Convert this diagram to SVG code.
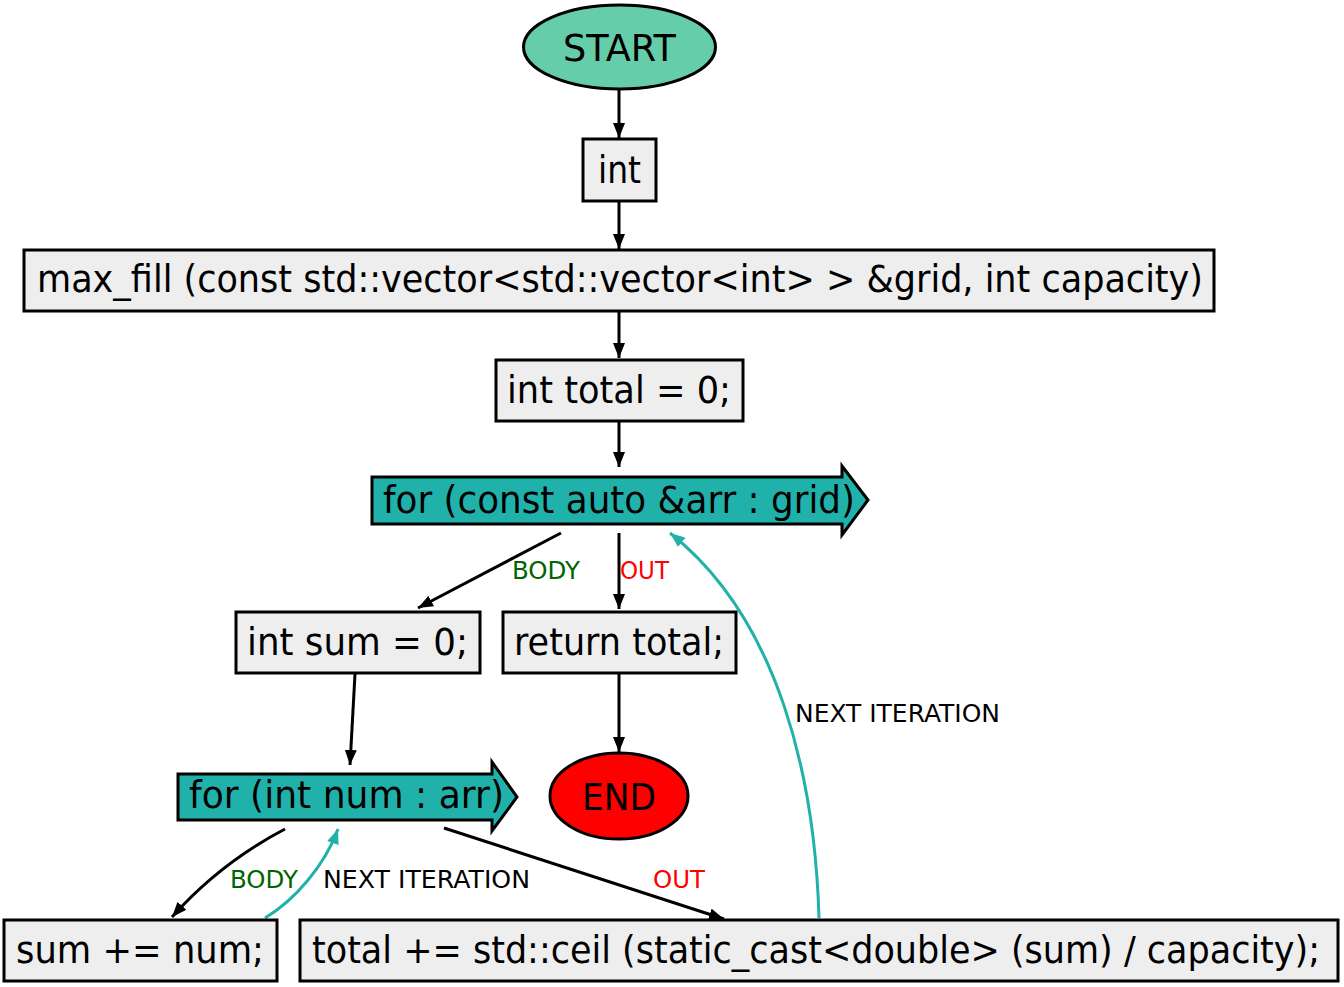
<svg xmlns="http://www.w3.org/2000/svg" width="1344" height="987" viewBox="0 0 1344 987">
<style>
.box{fill:#eeeeee;stroke:#000;stroke-width:3}
.loop{fill:#20b2aa;stroke:#000;stroke-width:3}
.t{font-family:"DejaVu Sans","Liberation Sans",sans-serif;font-size:37px;fill:#000;text-anchor:start}
.l{font-family:"DejaVu Sans","Liberation Sans",sans-serif;font-size:24px}
.e{fill:none;stroke:#000;stroke-width:3}
.c{fill:none;stroke:#20b2aa;stroke-width:3}
</style>
<defs>
<marker id="ah" markerUnits="userSpaceOnUse" markerWidth="16" markerHeight="12" refX="15" refY="6" orient="auto"><path d="M0,0 L15,6 L0,12 z" fill="#000"/></marker>
<marker id="ahc" markerUnits="userSpaceOnUse" markerWidth="16" markerHeight="12" refX="15" refY="6" orient="auto"><path d="M0,0 L15,6 L0,12 z" fill="#20b2aa"/></marker>
</defs>
<rect width="1344" height="987" fill="#fff"/>
<g id="connectors">
<path class="e" d="M619,90 L619,138" marker-end="url(#ah)"/>
<path class="e" d="M619,202 L619,249" marker-end="url(#ah)"/>
<path class="e" d="M619,311 L619,358" marker-end="url(#ah)"/>
<path class="e" d="M619,421 L619,467" marker-end="url(#ah)"/>
<path class="e" d="M561,533 L418,608" marker-end="url(#ah)"/>
<path class="e" d="M619,533 L619,609" marker-end="url(#ah)"/>
<path class="e" d="M619,673 L619,752" marker-end="url(#ah)"/>
<path class="e" d="M355,674 L350,765" marker-end="url(#ah)"/>
<path class="e" d="M444,828 L724,919" marker-end="url(#ah)"/>
<path class="e" d="M285,829 C245,850 205,880 172,917" marker-end="url(#ah)"/>
<path class="c" d="M265,918 C295,900 325,865 338,829" marker-end="url(#ahc)"/>
<path class="c" d="M819,918 C815,780 780,620 670,533" marker-end="url(#ahc)"/>
<text class="l" x="512" y="579" fill="#006400" textLength="68" lengthAdjust="spacingAndGlyphs">BODY</text>
<text class="l" x="620" y="579" fill="#ff0000" textLength="49" lengthAdjust="spacingAndGlyphs">OUT</text>
<text class="l" x="795" y="722" fill="#000" textLength="205" lengthAdjust="spacingAndGlyphs">NEXT ITERATION</text>
<text class="l" x="230" y="888" fill="#006400" textLength="68" lengthAdjust="spacingAndGlyphs">BODY</text>
<text class="l" x="323" y="888" fill="#000" textLength="207" lengthAdjust="spacingAndGlyphs">NEXT ITERATION</text>
<text class="l" x="653" y="888" fill="#ff0000" textLength="52" lengthAdjust="spacingAndGlyphs">OUT</text>
</g>
<g id="start">
<ellipse cx="619.5" cy="47" rx="96" ry="42" fill="#66cdaa" stroke="#000" stroke-width="3"/>
<text class="t" x="563" y="61" textLength="113" lengthAdjust="spacingAndGlyphs">START</text>
</g>
<g id="n_int">
<rect class="box" x="583" y="139" width="73" height="62"/>
<text class="t" x="598" y="183" textLength="43" lengthAdjust="spacingAndGlyphs">int</text>
</g>
<g id="n_maxfill">
<rect class="box" x="24" y="250" width="1190" height="61"/>
<text class="t" x="37" y="292" textLength="1166" lengthAdjust="spacingAndGlyphs">max_fill (const std::vector&lt;std::vector&lt;int&gt; &gt; &amp;grid, int capacity)</text>
</g>
<g id="n_total">
<rect class="box" x="496" y="360" width="247" height="61"/>
<text class="t" x="507" y="403" textLength="224" lengthAdjust="spacingAndGlyphs">int total = 0;</text>
</g>
<g id="n_for_grid">
<polygon class="loop" points="372,477 842,477 842,466 868,500 842,535 842,524 372,524"/>
<text class="t" x="383" y="513" textLength="472" lengthAdjust="spacingAndGlyphs">for (const auto &amp;arr : grid)</text>
</g>
<g id="n_sum">
<rect class="box" x="236" y="612" width="244" height="61"/>
<text class="t" x="247" y="655" textLength="221" lengthAdjust="spacingAndGlyphs">int sum = 0;</text>
</g>
<g id="n_return">
<rect class="box" x="503" y="612" width="233" height="61"/>
<text class="t" x="514" y="655" textLength="210" lengthAdjust="spacingAndGlyphs">return total;</text>
</g>
<g id="end">
<ellipse cx="619" cy="796" rx="69" ry="43" fill="#ff0000" stroke="#000" stroke-width="3"/>
<text class="t" x="582" y="810" textLength="74" lengthAdjust="spacingAndGlyphs">END</text>
</g>
<g id="n_for_num">
<polygon class="loop" points="178,774 492,774 492,762 517,797 492,831 492,820 178,820"/>
<text class="t" x="189" y="808" textLength="315" lengthAdjust="spacingAndGlyphs">for (int num : arr)</text>
</g>
<g id="n_sum_add">
<rect class="box" x="4" y="920" width="273" height="61"/>
<text class="t" x="16" y="963" textLength="248" lengthAdjust="spacingAndGlyphs">sum += num;</text>
</g>
<g id="n_total_add">
<rect class="box" x="300" y="920" width="1038" height="61"/>
<text class="t" x="312" y="963" textLength="1008" lengthAdjust="spacingAndGlyphs">total += std::ceil (static_cast&lt;double&gt; (sum) / capacity);</text>
</g>
</svg>
